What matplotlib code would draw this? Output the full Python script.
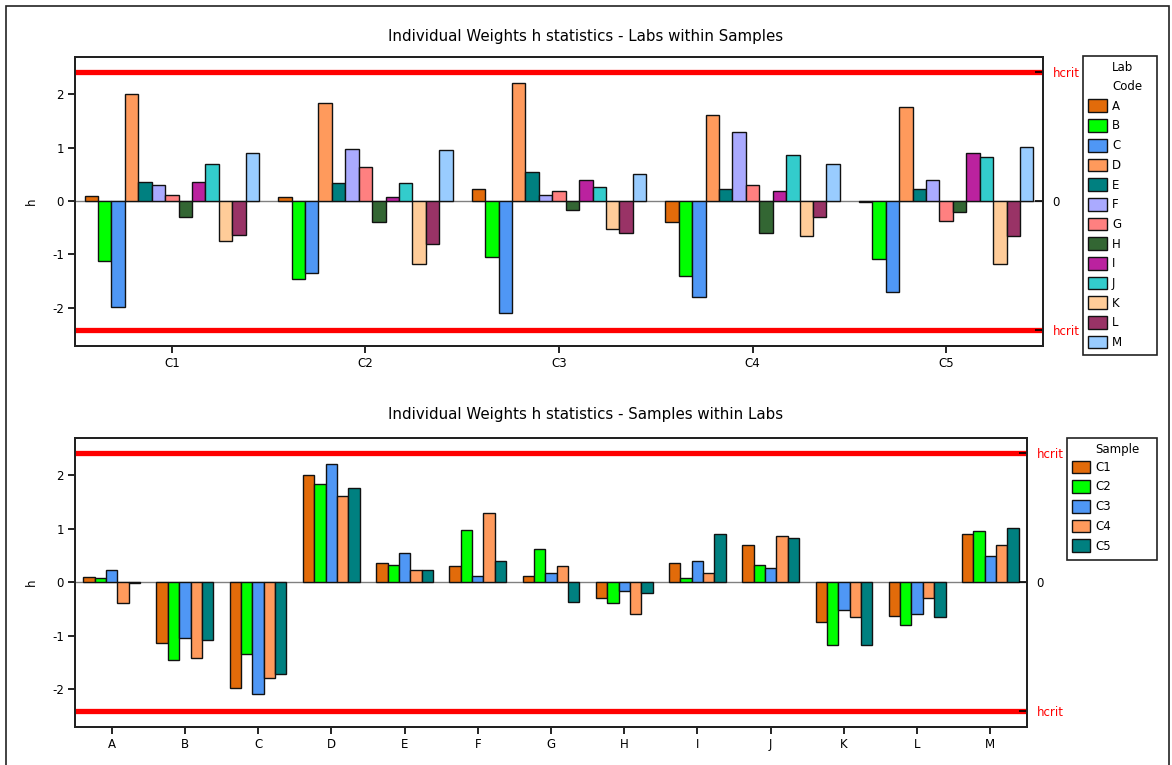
import numpy as np
import matplotlib
matplotlib.use('Agg')
import matplotlib.pyplot as plt
from matplotlib.patches import Rectangle, Patch

samples = ['C1', 'C2', 'C3', 'C4', 'C5']
labs = ['A', 'B', 'C', 'D', 'E', 'F', 'G', 'H', 'I', 'J', 'K', 'L', 'M']

# h statistic per lab, one list per sample (order follows `labs`)
h_c1 = [0.09, -1.13, -1.98, 2.01, 0.36, 0.30, 0.12, -0.30, 0.36, 0.69, -0.75, -0.63, 0.90]
h_c2 = [0.07, -1.46, -1.35, 1.83, 0.33, 0.98, 0.63, -0.39, 0.07, 0.33, -1.17, -0.80, 0.95]
h_c3 = [0.22, -1.05, -2.10, 2.21, 0.54, 0.12, 0.18, -0.16, 0.39, 0.27, -0.52, -0.60, 0.50]
h_c4 = [-0.39, -1.41, -1.80, 1.62, 0.22, 1.29, 0.30, -0.60, 0.18, 0.87, -0.66, -0.30, 0.69]
h_c5 = [-0.01, -1.08, -1.71, 1.77, 0.22, 0.39, -0.37, -0.21, 0.90, 0.83, -1.17, -0.66, 1.02]

hcrit = 2.41

lab_colors = ['#E26B0A', '#00FF00', '#4F97F5', '#FF9A5C', '#008080', '#AAAAFF',
              '#FF8080', '#336633', '#BB229F', '#33CCCC', '#FFCC99', '#993366', '#99CCFF']
sample_colors = lab_colors[:5]

plt.rcParams['font.family'] = 'DejaVu Sans'
plt.rcParams['font.size'] = 8.5
plt.rcParams['axes.unicode_minus'] = False

h = np.array([h_c1, h_c2, h_c3, h_c4, h_c5])  # shape (samples, labs)

W, H = 1172, 765
fig = plt.figure(figsize=(W / 100, H / 100), dpi=100)

# outer frame
fig.patches.append(Rectangle((6 / W, -0.05), (1169 - 6) / W, 1.05 - 6 / H,
                             transform=fig.transFigure, fill=False,
                             edgecolor='#222222', linewidth=1.2))


def h_panel(ax, values, groups, colors, total_width):
    n_groups, n_series = values.shape
    x = np.arange(n_groups)
    bw = total_width / n_series
    ax.axhline(0, color='#808080', linewidth=1.0, zorder=1)
    for j in range(n_series):
        ax.bar(x - total_width / 2 + bw * (j + 0.5), values[:, j], width=bw,
               color=colors[j], edgecolor='#111111', linewidth=1.0, zorder=2)
    ax.axhline(hcrit, color='#FF0000', linewidth=3.8, zorder=3)
    ax.axhline(-hcrit, color='#FF0000', linewidth=3.8, zorder=3)
    ax.set_xlim(-0.5, n_groups - 0.5)
    ax.set_ylim(-2.71, 2.70)
    ax.set_xticks(x)
    ax.set_xticklabels(groups)
    ax.set_yticks([-2, -1, 0, 1, 2])
    ax.set_ylabel('h', labelpad=10)
    ax.tick_params(direction='out', length=5, width=1.2, pad=3)
    for s in ax.spines.values():
        s.set_linewidth(1.4)
        s.set_color('#222222')

    rax = ax.twinx()
    rax.set_ylim(ax.get_ylim())
    rax.set_yticks([-hcrit, 0, hcrit])
    rax.set_yticklabels(['hcrit', '0', 'hcrit'])
    rax.tick_params(direction='in', length=6, width=1.2, pad=7)
    for lbl in (rax.get_yticklabels()[0], rax.get_yticklabels()[2]):
        lbl.set_color('#FF0000')
    for s in rax.spines.values():
        s.set_linewidth(1.4)
        s.set_color('#222222')
    return ax


def boxed_legend(colors, names, title, box, title_x, first_row_y, handle_w, handle_h):
    # box = (left, top, right, bottom) in pixels
    left, top, right, bottom = box
    fig.patches.append(Rectangle((left / W, 1 - bottom / H), (right - left) / W,
                                 (bottom - top) / H, transform=fig.transFigure,
                                 facecolor='white', edgecolor='#222222',
                                 linewidth=1.2, zorder=5))
    fig.text(title_x / W, 1 - (top + 5) / H, title, ha='left', va='top',
             fontsize=8.5, linespacing=1.6, zorder=6)
    fs = 8.5 * 100 / 72
    handles = [Patch(facecolor=c, edgecolor='#111111', linewidth=1.0) for c in colors]
    leg = fig.legend(handles, names, loc='upper left', frameon=False,
                     bbox_to_anchor=((left + 5) / W, 1 - (first_row_y - handle_h / 2) / H),
                     borderpad=0.0, borderaxespad=0.0,
                     handlelength=handle_w / fs, handleheight=handle_h / fs,
                     handletextpad=0.42, labelspacing=(21.4 - handle_h) / fs,
                     fontsize=8.5)
    leg.set_zorder(6)
    return leg


# Labs within samples
ax1 = fig.add_axes([75 / W, 1 - 345.7 / H, (1043 - 75) / W, (345.7 - 57) / H])
h_panel(ax1, h, samples, lab_colors, 0.9)
fig.text(0.5, 1 - 37 / H, 'Individual Weights h statistics - Labs within Samples',
         ha='center', va='center', fontsize=10.8)
boxed_legend(lab_colors, labs, 'Lab\nCode', (1083, 56, 1157, 355), 1112, 107, 19, 15)

# Samples within labs
ax2 = fig.add_axes([75 / W, 1 - 727 / H, (1027 - 75) / W, (727 - 438) / H])
h_panel(ax2, h.T, labs, sample_colors, 0.775)
fig.text(0.5, 1 - 415 / H, 'Individual Weights h statistics - Samples within Labs',
         ha='center', va='center', fontsize=10.8)
boxed_legend(sample_colors, samples, 'Sample', (1067, 438, 1157, 560), 1095, 468, 18, 15)

fig.savefig('out.png', dpi=100)
